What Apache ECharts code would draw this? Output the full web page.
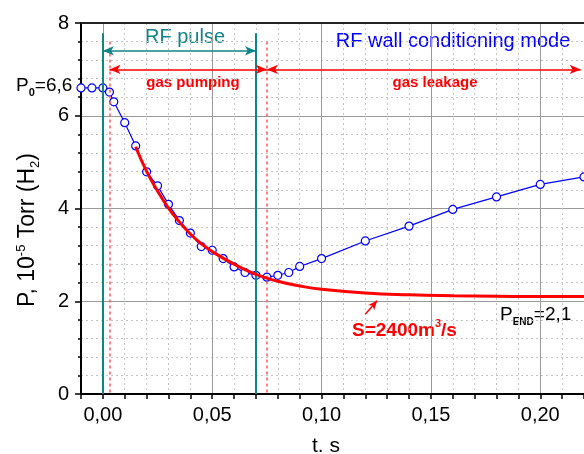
<!DOCTYPE html>
<html>
<head>
<meta charset="utf-8">
<script src="https://cdn.jsdelivr.net/npm/echarts@6/dist/echarts.min.js"></script>
<style>
  html, body { margin: 0; padding: 0; background: #fff; }
  #view { width: 584px; height: 454px; }
</style>
</head>
<body>
<div id="view"></div>
<script>
  // measured pressure, blue circles
  var tMeasured = [-0.01, -0.005, 0, 0.003, 0.005, 0.01, 0.015, 0.02, 0.025, 0.03, 0.035, 0.04,
    0.045, 0.05, 0.055, 0.06, 0.065, 0.07, 0.075, 0.08, 0.085, 0.09, 0.10, 0.12, 0.14, 0.16,
    0.18, 0.20, 0.22];
  var pMeasured = [6.60, 6.60, 6.60, 6.51, 6.30, 5.85, 5.35, 4.79, 4.49, 4.09, 3.74, 3.47,
    3.18, 3.10, 2.92, 2.74, 2.62, 2.56, 2.52, 2.56, 2.62, 2.75, 2.92, 3.30, 3.62, 3.98,
    4.25, 4.52, 4.68];

  // pumping curve S=2400 m3/s, red
  var tFit = [0.015, 0.02, 0.025, 0.03, 0.035, 0.04, 0.045, 0.05, 0.06, 0.07, 0.08, 0.09,
    0.10, 0.12, 0.14, 0.16, 0.18, 0.20, 0.22];
  var pFit = [5.33, 4.80, 4.38, 4.01, 3.71, 3.45, 3.24, 3.07, 2.80, 2.58, 2.43, 2.33,
    2.26, 2.18, 2.14, 2.12, 2.11, 2.10, 2.10];

  // markers
  var pulseStart = 0, pulseEnd = 0.07;
  var pumpStart = 0.003, pumpEnd = 0.075;

  var xMin = -0.01, xMax = 0.22;
  var yMin = 0, yMax = 8;

  var FONT = 'Liberation Sans, Arial, sans-serif';
  var TEAL = '#108585';
  var RED = '#ff0000';
  var BLUE = '#0000ff';

  function pairs(xs, ys) {
    return xs.map(function (x, i) { return [x, ys[i]]; });
  }

  var chart = echarts.init(document.getElementById('view'));

  var option = {
    animation: false,
    backgroundColor: '#fff',
    grid: { left: 81, right: 0, top: 23, bottom: 60, containLabel: false },
    xAxis: [
      { // minor grid
        type: 'value', min: xMin, max: xMax, interval: 0.01, position: 'bottom',
        axisLine: { show: true, onZero: false, lineStyle: { color: '#000', width: 2 } },
        axisTick: { show: true, length: 5, lineStyle: { color: '#000', width: 1.5 } },
        axisLabel: { show: false },
        splitLine: { show: true, lineStyle: { color: '#c4c4c4', type: [2, 3], width: 1 } }
      },
      { // major grid + labels
        type: 'value', min: xMin, max: xMax, minInterval: 0.05, maxInterval: 0.05, position: 'bottom',
        axisLine: { show: false, onZero: false },
        axisTick: { show: false },
        axisLabel: {
          show: true, showMinLabel: false, showMaxLabel: false, margin: 11,
          color: '#000', fontSize: 20, fontFamily: FONT,
          formatter: function (v) { return v.toFixed(2).replace('.', ','); }
        },
        splitLine: { show: true, lineStyle: { color: '#9a9a9a', width: 1 } }
      },
      { // top frame
        type: 'value', min: xMin, max: xMax, position: 'top',
        axisLine: { show: true, onZero: false, lineStyle: { color: '#222', width: 2 } },
        axisTick: { show: false }, axisLabel: { show: false }, splitLine: { show: false }
      }
    ],
    yAxis: {
      type: 'value', min: yMin, max: yMax, interval: 2,
      axisLine: { show: true, onZero: false, lineStyle: { color: '#000', width: 2 } },
      axisTick: { show: true, length: 6, lineStyle: { color: '#000', width: 1.5 } },
      minorTick: { show: true, splitNumber: 5, length: 3, lineStyle: { color: '#000', width: 1.5 } },
      axisLabel: { color: '#000', fontSize: 20, fontFamily: FONT, margin: 12 },
      splitLine: { show: true, lineStyle: { color: '#9a9a9a', width: 1 } },
      minorSplitLine: { show: true, lineStyle: { color: '#c4c4c4', type: [2, 3], width: 1 } }
    },
    series: [
      {
        name: 'measured',
        type: 'line',
        data: pairs(tMeasured, pMeasured),
        symbol: 'circle',
        symbolSize: 8,
        lineStyle: { color: BLUE, width: 1.2 },
        itemStyle: { color: '#fff', borderColor: BLUE, borderWidth: 1.2 },
        z: 3
      },
      {
        name: 'fit',
        type: 'line',
        smooth: true,
        showSymbol: false,
        data: pairs(tFit, pFit),
        lineStyle: { color: RED, width: 3 },
        z: 5
      },
      {
        name: 'markers',
        type: 'line',
        data: [],
        z: 2,
        markLine: {
          silent: true,
          label: { show: false },
          symbol: 'none',
          data: [
            [{ coord: [pulseStart, 7.78], lineStyle: { color: TEAL, width: 2, type: 'solid' } },
             { coord: [pulseStart, 0] }],
            [{ coord: [pulseEnd, 7.78], lineStyle: { color: TEAL, width: 2, type: 'solid' } },
             { coord: [pulseEnd, 0] }],
            [{ coord: [pumpStart, 7.6], lineStyle: { color: '#ff5a5a', width: 1.5, type: [3, 3] } },
             { coord: [pumpStart, 0] }],
            [{ coord: [pumpEnd, 7.6], lineStyle: { color: '#ff5a5a', width: 1.5, type: [3, 3] } },
             { coord: [pumpEnd, 0] }],
            [{ coord: [pulseStart, 7.4], symbol: 'arrow', symbolSize: [7, 11],
               lineStyle: { color: TEAL, width: 1.5, type: 'solid' } },
             { coord: [pulseEnd, 7.4], symbol: 'arrow', symbolSize: [7, 11] }],
            [{ coord: [pumpStart, 7.0], symbol: 'arrow', symbolSize: [7, 11],
               lineStyle: { color: RED, width: 1.5, type: 'solid' } },
             { coord: [pumpEnd, 7.0], symbol: 'arrow', symbolSize: [7, 11] }],
            [{ coord: [pumpEnd, 7.0], symbol: 'arrow', symbolSize: [7, 11],
               lineStyle: { color: RED, width: 1.5, type: 'solid' } },
             { coord: [0.2185, 7.0], symbol: 'arrow', symbolSize: [7, 11] }],
            [{ coord: [0.12, 1.72], symbol: 'none',
               lineStyle: { color: RED, width: 1.5, type: 'solid' } },
             { coord: [0.1254, 2.01], symbol: 'arrow', symbolSize: [6, 9] }]
          ]
        }
      }
    ],
    graphic: [
      { type: 'text', x: 185, y: 37,
        style: { text: 'RF pulse', fill: TEAL, fontSize: 20, fontFamily: FONT, align: 'center', verticalAlign: 'middle' } },
      { type: 'text', x: 453, y: 41,
        style: { text: 'RF wall conditioning mode', fill: BLUE, fontSize: 20, fontFamily: FONT, align: 'center', verticalAlign: 'middle' } },
      { type: 'text', x: 193, y: 83,
        style: { text: 'gas pumping', fill: RED, fontSize: 15, fontWeight: 'bold', fontFamily: FONT, align: 'center', verticalAlign: 'middle' } },
      { type: 'text', x: 435, y: 83,
        style: { text: 'gas leakage', fill: RED, fontSize: 15, fontWeight: 'bold', fontFamily: FONT, align: 'center', verticalAlign: 'middle' } },
      { type: 'text', x: 16, y: 76,
        style: {
          text: '{m|P}{s|0}{m|=6,6}', fontFamily: FONT, fill: '#000', align: 'left', verticalAlign: 'top',
          rich: {
            m: { fontSize: 19, lineHeight: 22, verticalAlign: 'top', fontFamily: FONT, fill: '#000' },
            s: { fontSize: 11, fontWeight: 'bold', lineHeight: 12, padding: [17, 0, 0, 0], verticalAlign: 'bottom', fontFamily: FONT, fill: '#000' }
          }
        } },
      { type: 'text', x: 500, y: 305,
        style: {
          text: '{m|P}{s|END}{m|=2,1}', fontFamily: FONT, fill: '#000', align: 'left', verticalAlign: 'top',
          rich: {
            m: { fontSize: 19, lineHeight: 22, verticalAlign: 'top', fontFamily: FONT, fill: '#000' },
            s: { fontSize: 10, fontWeight: 'bold', lineHeight: 11, padding: [16, 0, 0, 0], verticalAlign: 'bottom', fontFamily: FONT, fill: '#000' }
          }
        } },
      { type: 'text', x: 352, y: 314,
        style: {
          text: '{m|S=2400m}{p|3}{m|/s}', fontFamily: FONT, fill: RED, align: 'left', verticalAlign: 'top',
          rich: {
            m: { fontSize: 19, fontWeight: 'bold', lineHeight: 26, verticalAlign: 'bottom', fontFamily: FONT, fill: RED },
            p: { fontSize: 11, fontWeight: 'bold', lineHeight: 12, verticalAlign: 'top', padding: [4, 0, 0, 0], fontFamily: FONT, fill: RED }
          }
        } },
      { type: 'text', x: 28, y: 230, rotation: Math.PI / 2,
        style: {
          text: '{m|P, 10}{p|-5}{m| Torr (H}{s|2}{m|)}', fontFamily: FONT, fill: '#000', align: 'center', verticalAlign: 'middle',
          rich: {
            m: { fontSize: 23, lineHeight: 27, verticalAlign: 'middle', fontFamily: FONT, fill: '#000' },
            p: { fontSize: 13, lineHeight: 14, verticalAlign: 'top', fontFamily: FONT, fill: '#000' },
            s: { fontSize: 13, lineHeight: 14, verticalAlign: 'bottom', fontFamily: FONT, fill: '#000' }
          }
        } },
      { type: 'text', x: 326, y: 446,
        style: { text: 't. s', fill: '#000', fontSize: 21, fontFamily: FONT, align: 'center', verticalAlign: 'middle' } }
    ]
  };

  chart.setOption(option);
</script>
</body>
</html>
